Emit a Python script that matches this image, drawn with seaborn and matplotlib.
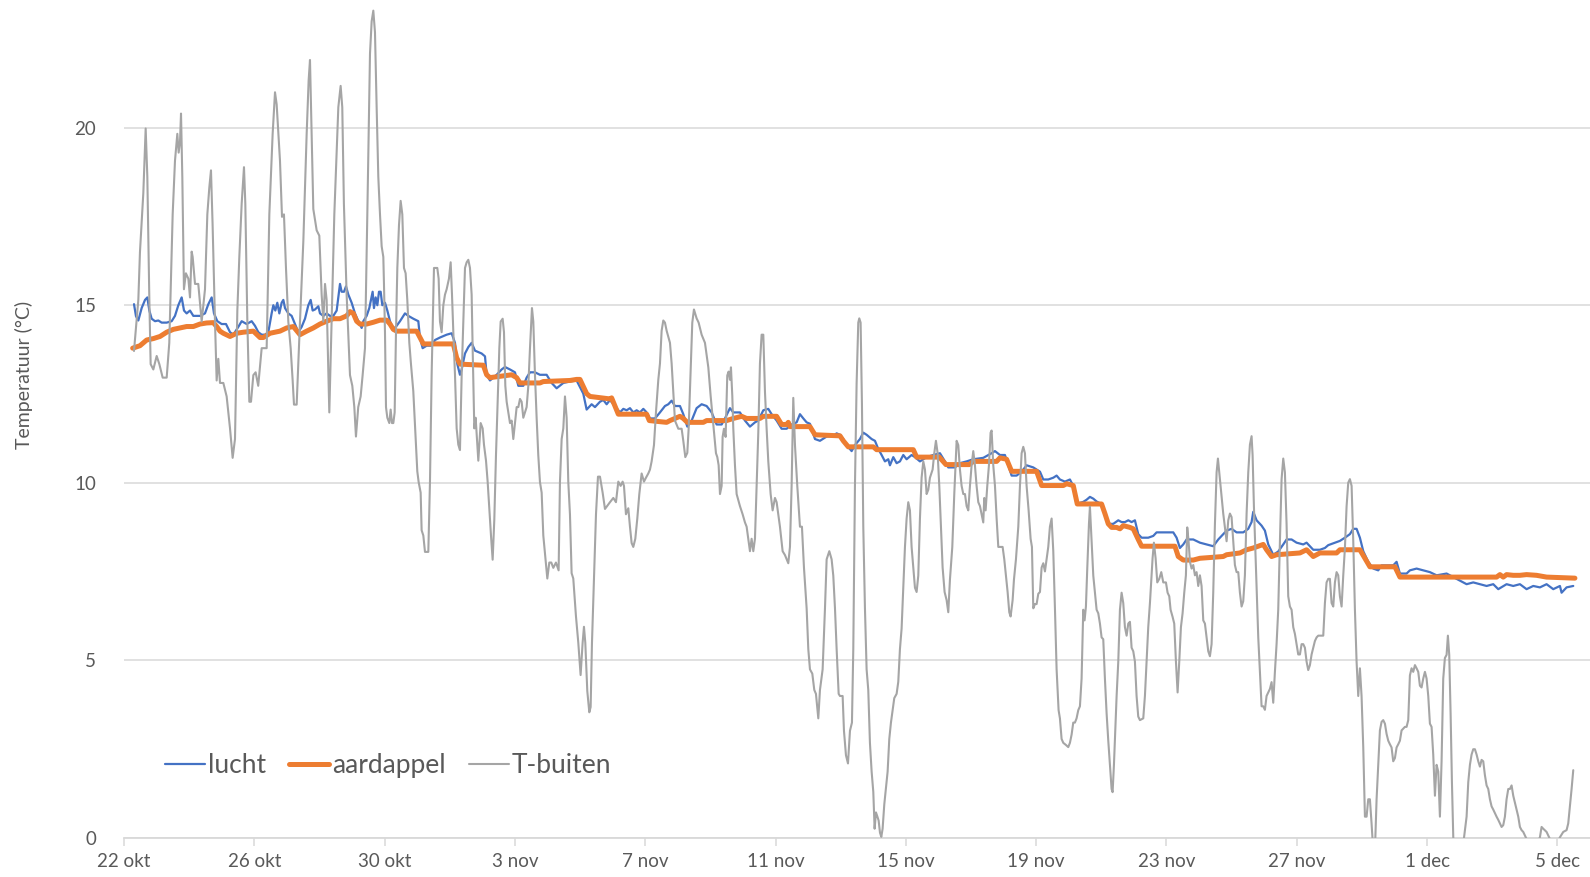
import numpy as np
import pandas as pd
import matplotlib
matplotlib.use("Agg")
import matplotlib.pyplot as plt
import seaborn as sns

# ---------------- data (days since 22 okt 00:00, temperature in °C) ----------------
buiten_dag = [
    0.307, 0.44, 0.49, 0.593, 0.665, 0.716, 0.778, 0.818, 0.90, 1.003, 1.085, 1.187, 1.31, 1.39, 1.494,
    1.565, 1.637, 1.678, 1.719, 1.75, 1.79, 1.84, 1.90, 1.975, 2.026, 2.077, 2.108, 2.18, 2.28, 2.384,
    2.486, 2.558, 2.619, 2.67, 2.72, 2.793, 2.844, 2.895, 2.947, 3.049, 3.151, 3.254, 3.335, 3.407,
    3.479, 3.54, 3.612, 3.683, 3.724, 3.786, 3.847, 3.898, 3.97, 4.04, 4.12, 4.226, 4.379, 4.461, 4.563,
    4.635, 4.686, 4.788, 4.85, 4.91, 4.972, 5.044, 5.116, 5.177, 5.218, 5.30, 5.402, 5.505, 5.607, 5.668,
    5.709, 5.76, 5.811, 5.914, 5.995, 6.067, 6.118, 6.17, 6.22, 6.302, 6.374, 6.456, 6.528, 6.579, 6.65,
    6.70, 6.75, 6.834, 6.937, 7.008, 7.07, 7.12, 7.19, 7.264, 7.325, 7.397, 7.469,
    7.551, 7.602, 7.653, 7.704, 7.755, 7.806, 7.858, 7.909, 7.960, 7.980, 8.011, 8.042, 8.083, 8.144,
    8.185, 8.226, 8.267, 8.308, 8.349, 8.390, 8.441, 8.492, 8.543, 8.594, 8.645, 8.696, 8.758, 8.809,
    8.880, 8.952, 9.003, 9.044, 9.106, 9.136, 9.188, 9.239, 9.341, 9.392, 9.443, 9.515, 9.556, 9.617,
    9.658, 9.699, 9.750, 9.802, 9.853, 9.904, 9.975, 10.027, 10.068, 10.109, 10.160, 10.211, 10.262,
    10.313, 10.365, 10.416, 10.467, 10.518, 10.569, 10.620, 10.671, 10.702, 10.753, 10.794, 10.825,
    10.876, 10.948, 11.009, 11.050, 11.112, 11.163, 11.214, 11.265, 11.316, 11.367, 11.418, 11.469,
    11.521, 11.562, 11.623, 11.664, 11.705, 11.746, 11.797, 11.848, 11.899, 11.950, 12.001, 12.053,
    12.104, 12.155, 12.206, 12.257, 12.308, 12.359, 12.411, 12.462, 12.523, 12.564, 12.615, 12.666,
    12.717, 12.768, 12.820, 12.871, 12.932, 12.994, 13.055, 13.116, 13.178, 13.259, 13.341, 13.382,
    13.434, 13.485, 13.536, 13.587, 13.638, 13.689, 13.740, 13.791, 13.873, 13.945, 14.016, 14.078,
    14.119, 14.160, 14.221, 14.283, 14.324, 14.365, 14.426, 14.488, 14.549, 14.610, 14.692, 14.764,
    14.917, 15.020, 15.101, 15.173, 15.245, 15.306, 15.347, 15.408, 15.480, 15.531, 15.582, 15.633,
    15.695, 15.756, 15.818, 15.889, 15.961, 16.022, 16.094, 16.145, 16.196, 16.268, 16.329, 16.401,
    16.452, 16.503, 16.554, 16.605, 16.657, 16.759, 16.810, 16.861, 16.912, 16.963, 17.015, 17.117,
    17.168, 17.230, 17.291, 17.332, 17.393, 17.444, 17.495, 17.577, 17.639, 17.731, 17.833, 17.884,
    17.936, 18.007, 18.089, 18.171, 18.212, 18.253, 18.294, 18.345, 18.375, 18.416, 18.467, 18.518,
    18.559, 18.600, 18.631, 18.672, 18.703, 18.754, 18.805, 18.907, 18.989, 19.061, 19.112, 19.163,
    19.214, 19.265, 19.317, 19.368, 19.419, 19.470, 19.521, 19.572, 19.624, 19.675, 19.726, 19.777,
    19.849, 19.910, 19.982, 20.033, 20.135, 20.217, 20.289, 20.391, 20.442, 20.493, 20.544, 20.596,
    20.667, 20.749, 20.810, 20.872, 20.954, 21.005, 21.056, 21.128, 21.189, 21.240, 21.312, 21.363,
    21.445, 21.517, 21.568, 21.650, 21.721, 21.772, 21.824, 21.875, 21.937,
    21.977, 22.059, 22.100, 22.161, 22.223, 22.284, 22.345, 22.386, 22.437, 22.488, 22.539, 22.570,
    22.611, 22.652, 22.693, 22.744, 22.795, 22.846, 22.897, 22.949, 23.000, 23.041, 23.082, 23.123,
    23.164, 23.205, 23.246, 23.286, 23.338, 23.389, 23.440, 23.491, 23.542, 23.593, 23.644, 23.716,
    23.767, 23.818, 23.869, 23.921, 23.972, 24.023, 24.074, 24.125, 24.176, 24.228, 24.279, 24.330,
    24.381, 24.432, 24.483, 24.535, 24.586, 24.637, 24.688, 24.739, 24.821, 24.872, 24.923, 24.975,
    25.026, 25.077, 25.128, 25.189, 25.251, 25.302, 25.353, 25.425, 25.486, 25.558, 25.609, 25.660,
    25.711, 25.763, 25.814, 25.865, 25.916, 25.967, 26.018, 26.069, 26.120, 26.171, 26.223, 26.274,
    26.325, 26.376, 26.407, 26.448, 26.499, 26.550, 26.601, 26.632, 26.683, 26.735, 26.786, 26.837,
    26.888, 26.970, 27.021, 27.072, 27.123, 27.174, 27.215, 27.277, 27.318, 27.379, 27.451, 27.502,
    27.553, 27.604, 27.655, 27.706, 27.768, 27.829, 27.870, 27.911, 27.962, 28.013, 28.065, 28.116,
    28.167, 28.218, 28.269, 28.320, 28.371, 28.422, 28.474, 28.525, 28.576, 28.627, 28.688, 28.729,
    28.780, 28.832, 28.913, 28.985, 29.036, 29.087, 29.138, 29.189, 29.240, 29.292,
    29.343, 29.394, 29.445, 29.486, 29.527, 29.568, 29.620, 29.650, 29.701, 29.753, 29.804, 29.855,
    29.906, 29.957, 30.008, 30.059, 30.110, 30.162, 30.213, 30.264, 30.315, 30.346, 30.387, 30.428,
    30.469, 30.520, 30.571, 30.622, 30.673, 30.724, 30.776, 30.827, 30.878, 30.929, 30.980, 31.031,
    31.082, 31.133, 31.185, 31.287, 31.338, 31.389, 31.440, 31.492, 31.543, 31.573, 31.614, 31.666,
    31.717, 31.778, 31.840, 31.901, 31.983, 32.034, 32.085, 32.126, 32.187, 32.238, 32.290, 32.341,
    32.392, 32.443, 32.494, 32.545, 32.596, 32.637, 32.678, 32.720, 32.771, 32.822, 32.873, 32.924,
    32.975, 33.026, 33.077, 33.129, 33.180, 33.231, 33.282, 33.333, 33.384, 33.435, 33.487, 33.538,
    33.579, 33.620, 33.691, 33.742, 33.794, 33.845, 33.896, 33.947, 33.998, 34.049, 34.100, 34.152,
    34.203, 34.254, 34.305, 34.356, 34.407, 34.459, 34.510, 34.561, 34.612, 34.643, 34.684, 34.766,
    34.817, 34.868, 34.919, 34.970, 35.021, 35.072, 35.124, 35.175, 35.226, 35.277, 35.328, 35.379,
    35.430, 35.482, 35.533, 35.584, 35.635, 35.686, 35.737, 35.789, 35.840, 35.891, 35.942, 35.993,
    36.044, 36.096, 36.147, 36.198, 36.249, 36.300, 36.351, 36.403, 36.454, 36.505, 36.556, 36.607,
    36.658, 36.710,
    36.812, 36.863, 36.914, 36.965, 37.016, 37.068, 37.119, 37.170, 37.221, 37.272, 37.323, 37.375,
    37.426, 37.477, 37.528, 37.579, 37.630, 37.682, 37.733, 37.784, 37.835, 37.886, 37.937, 37.988,
    38.040, 38.091, 38.142, 38.193, 38.244, 38.295, 38.347, 38.398, 38.449, 38.500, 38.551, 38.602,
    38.653, 38.705, 38.756, 38.807, 38.858, 38.909, 38.960, 39.012, 39.063, 39.114, 39.165, 39.216,
    39.267, 39.319, 39.370, 39.421, 39.472, 39.523, 39.574, 39.626, 39.677, 39.728, 39.779, 39.830,
    39.881, 39.933, 39.984, 40.035, 40.086, 40.137, 40.188, 40.240, 40.291, 40.342, 40.393, 40.444,
    40.495, 40.546, 40.598, 40.638, 40.679, 40.721, 40.762, 40.803, 40.854, 41.007, 41.109, 41.160,
    41.212, 41.263, 41.314, 41.365, 41.416, 41.467, 41.519, 41.570, 41.621, 41.672, 41.723, 41.774,
    41.826, 41.877, 41.928, 41.979, 42.030, 42.081, 42.132, 42.184, 42.235, 42.286, 42.337, 42.388,
    42.439, 42.491, 42.542, 42.593, 42.644, 42.695, 42.746, 42.798, 42.849, 42.900, 42.951, 43.002,
    43.053, 43.105, 43.156, 43.258, 43.360, 43.463, 43.514, 43.565, 43.667, 43.719, 43.770, 43.872,
    43.974, 44.077, 44.179, 44.281, 44.332, 44.384, 44.435, 44.486,
]
buiten_temp = [
    13.71, 15.15, 16.5, 18.16, 19.98, 18.62, 15.15, 13.34, 13.19, 13.57, 13.34, 12.96, 12.96, 13.94, 17.56,
    19.07, 19.83, 19.30, 19.60, 20.40, 18.62, 15.45, 15.90, 15.75, 15.22, 16.51, 16.36, 15.6, 15.6, 14.54,
    15.45, 17.56, 18.32, 18.8, 17.26, 14.54, 12.88, 13.49, 12.81, 12.81, 12.43, 11.53, 10.70, 11.23,
    14.85, 16.36, 17.86, 18.89, 17.86, 14.54, 12.28, 12.28, 13.03, 13.11, 12.73, 13.79, 13.79, 17.56, 19.83,
    21.0, 20.66, 19.07, 17.49, 17.56, 16.05, 14.54, 13.79, 12.88, 12.2, 12.2, 14.54, 16.81, 19.83, 21.34,
    21.91, 19.83, 17.71, 17.11, 16.96, 15.3, 14.54, 15.6, 15.15, 11.98, 14.54, 17.56, 19.37, 20.58, 21.18,
    20.58, 17.86, 15.3, 13.03, 12.73, 12.13, 11.30, 12.13, 12.43, 13.03, 13.79, 17.56,
    22.09, 23.0, 23.3, 22.69, 20.58, 18.62, 17.56, 16.66, 16.36, 15.60, 14.24, 12.13, 11.83, 11.68,
    12.06, 11.68, 11.68, 11.98, 14.24, 16.05, 17.26, 17.94, 17.56, 16.05, 15.90, 15.15, 13.94, 13.34,
    12.58, 11.23, 10.32, 10.02, 9.72, 8.66, 8.51, 8.05, 8.05, 10.02, 13.04, 16.05, 16.05, 16.05,
    15.75, 14.54, 14.24, 15.0, 15.30, 15.45, 15.75, 16.21, 15.30, 14.24, 13.04, 11.53, 11.07,
    10.92, 13.04, 14.54, 16.05, 16.21, 16.28, 16.05, 15.30, 13.79, 11.53, 11.83, 11.38,
    10.62, 11.68, 11.53, 11.07, 10.62, 10.02, 9.26, 8.51, 7.83, 8.96, 10.77, 12.28,
    13.79, 14.54, 14.62, 14.24, 12.73, 12.28, 11.98, 11.68, 11.75, 11.23, 11.68, 12.13,
    12.13, 12.36, 12.28, 11.83, 11.98, 12.13, 12.73, 13.79, 14.92, 14.54, 13.04, 11.83,
    10.77, 10.02, 9.72, 8.51, 7.90, 7.30, 7.75, 7.75, 7.60, 7.75, 7.53, 10.02,
    11.23, 11.53, 12.43, 11.83, 10.02, 9.11, 7.45, 7.30, 6.24, 5.49, 4.58, 5.49,
    5.94, 5.49, 4.13, 3.53, 3.68, 5.49, 7.30, 9.11, 10.17, 10.17, 9.72, 9.26,
    9.45, 9.57, 9.45, 10.03, 9.91, 10.03, 9.91, 9.11, 9.28, 8.76, 8.30, 8.19,
    8.42, 8.99, 9.68, 10.26, 10.03, 10.14, 10.26, 10.37, 10.60, 11.06, 11.98, 12.90,
    13.36, 14.28, 14.57, 14.51, 14.28, 13.94, 13.36, 12.56, 11.75, 11.64, 11.52, 11.52,
    11.18, 10.72, 10.84, 11.52, 13.13, 14.51, 14.88, 14.63, 14.51, 14.17, 13.94, 13.59,
    13.25, 12.45, 11.64, 10.83, 10.72, 10.49, 9.68, 9.91, 11.29, 11.52, 11.29, 13.02,
    13.13, 12.90, 13.25, 12.45, 11.52, 10.49, 9.68, 9.34, 9.11, 8.88, 8.76, 8.42,
    8.07, 8.42, 8.07, 8.42, 9.91, 11.41, 13.36, 14.17, 14.17, 12.56, 11.52, 10.60,
    9.68, 9.22, 9.57, 9.45, 8.76, 8.07, 7.96, 7.73, 8.19, 9.91, 12.39, 11.06,
    9.91, 8.76, 8.76, 7.61, 6.46, 5.31, 4.74, 4.62, 4.16, 4.05, 3.36, 4.16,
    4.74, 6.46, 7.84, 8.07, 7.84, 7.38, 6.46, 5.31, 4.05,
    3.99, 3.99, 3.01, 2.32, 2.09, 3.01, 3.24, 5.31, 9.91, 12.79, 14.51, 14.63,
    14.51, 12.21, 8.76, 6.46, 4.74, 4.16, 2.67, 1.86, 1.29, 0.25, 0.71, 0.60,
    0.48, 0.14, 0.02, 0.25, 0.94, 1.40, 1.86, 2.78, 3.24, 3.59, 3.93, 4.05,
    4.39, 5.31, 5.89, 7.04, 8.19, 8.99, 9.45, 9.22, 8.19, 7.61, 7.04, 6.92,
    7.38, 8.99, 10.14, 10.60, 10.37, 9.68, 9.80, 10.14, 10.37, 10.83, 11.18, 10.83,
    9.91, 8.76, 7.61, 6.92, 6.69, 6.35, 7.27, 8.19, 9.68, 11.18, 11.06, 10.37,
    9.91, 9.68, 9.68, 9.34, 9.22, 9.91, 10.49, 10.89, 10.49, 9.91, 9.45, 9.34,
    9.11, 8.88, 9.57, 9.22, 9.91, 10.49, 11.41, 11.47, 10.49, 9.91, 8.99, 8.19,
    8.19, 8.19, 7.84, 7.38, 6.92, 6.35, 6.23, 6.69, 7.27, 7.84, 8.76, 9.91,
    10.83, 11.01, 10.83, 9.91, 9.22, 8.42, 8.19, 6.46, 6.58, 6.58, 6.87, 6.92,
    7.61, 7.73, 7.50, 7.84, 8.19, 8.76, 8.99, 8.07, 6.46, 4.74, 3.59, 3.36,
    2.78, 2.67, 2.61, 2.55, 2.67, 2.90, 3.24, 3.24, 3.36, 3.59,
    3.70, 4.48, 6.42, 6.12, 6.51, 7.58, 8.84, 9.32, 8.35, 7.38, 6.90, 6.42,
    6.32, 6.03, 5.64, 5.59, 4.48, 3.50, 2.73, 2.05, 1.37, 1.28, 2.05, 3.02,
    3.99, 4.96, 6.42, 6.90, 6.61, 5.93, 5.69, 6.03, 6.08, 5.35, 5.25, 4.96,
    3.99, 3.41, 3.31, 3.36, 3.99, 4.96, 5.93, 6.61, 7.39, 7.87, 8.31, 7.87,
    7.19, 7.29, 7.48, 7.19, 7.19, 6.90, 6.80, 6.42, 6.22, 6.03, 4.96, 4.09,
    4.96, 5.93, 6.32, 6.90, 7.39, 8.74, 8.35, 7.77, 7.58, 7.68, 7.39, 7.48,
    7.09, 7.39, 7.09, 6.12, 6.03, 5.64, 5.25, 5.11, 5.45, 6.90, 8.84, 10.29,
    10.68, 10.29, 9.62, 9.13, 8.74, 8.35, 8.94, 9.13, 9.03, 8.35, 7.68, 7.48,
    7.48, 6.90, 6.51, 6.66, 7.39, 9.13, 10.29, 11.07, 11.31, 10.78, 9.32, 7.09,
    5.64, 4.67, 3.70, 3.70, 3.60, 3.99, 4.09, 4.19, 4.38, 3.80, 4.67, 5.45,
    6.42, 8.35, 10.10, 10.68, 10.29, 8.84, 6.80, 6.51, 6.42, 5.93, 5.74, 5.45,
    5.16, 5.16, 5.45, 5.45, 5.35, 4.96, 4.72, 4.86, 5.16, 5.35, 5.54, 5.64,
    5.69, 5.69,
    5.69, 6.61, 7.19, 7.29, 7.29, 6.61, 6.51, 7.19, 7.48, 7.39, 6.80, 6.51,
    7.39, 8.16, 9.33, 10.00, 10.10, 9.91, 8.36, 6.42, 4.96, 3.99, 4.77, 3.99,
    2.54, 0.59, 0.59, 1.08, 1.08, 0.40, -0.38, -0.38, 1.08, 2.05, 3.02, 3.26,
    3.31, 3.21, 2.92, 2.73, 2.63, 2.54, 2.15, 2.24, 2.54, 2.63, 2.73, 3.02,
    3.07, 3.12, 3.12, 3.31, 4.57, 4.77, 4.67, 4.86, 4.77, 4.67, 4.28, 4.23,
    4.48, 4.67, 4.48, 3.99, 3.21, 3.12, 2.34, 1.18, 2.05, 1.86, 0.59, 2.15,
    4.48, 5.06, 5.15, 5.69, 5.15, 3.50, 1.56, 0.01, -0.38, -0.57, -0.18, 0.21,
    0.59, 1.56, 2.05, 2.34, 2.49, 2.49, 2.34, 2.15, 2.00, 2.19, 2.15, 1.76,
    1.47, 1.37, 1.08, 0.88, 0.79, 0.69, 0.59, 0.50, 0.40, 0.30, 0.35, 0.59,
    1.08, 1.37, 1.37, 1.47, 1.18, 0.98, 0.79, 0.59, 0.30, 0.21, 0.16, 0.06,
    -0.04, -0.18, -0.38, -0.38, -0.18, 0.01, 0.30, 0.25, 0.16, 0.06, -0.04, -0.28,
    -0.18, 0.01, 0.16, 0.21, 0.40, 0.88, 1.37, 1.90,
]

lucht_dag = [
    0.307, 0.368, 0.440, 0.542, 0.645, 0.716, 0.778, 0.849, 0.952, 1.054, 1.156, 1.310, 1.463, 1.565,
    1.668, 1.770, 1.842, 1.923, 2.026, 2.128, 2.333, 2.486, 2.589, 2.691, 2.762, 2.865, 2.998, 3.131,
    3.254, 3.356, 3.509, 3.612, 3.765, 3.919, 4.021, 4.123, 4.226, 4.328, 4.430, 4.532, 4.584, 4.645,
    4.706, 4.768, 4.839, 4.891, 4.942, 5.044, 5.146, 5.249, 5.351, 5.453, 5.556, 5.658, 5.730, 5.791,
    5.863, 5.965, 6.016, 6.118, 6.220, 6.323, 6.425, 6.528, 6.579, 6.630, 6.681, 6.753, 6.814, 6.886,
    6.988, 7.090, 7.193, 7.295,
    7.346, 7.448, 7.530, 7.581, 7.632, 7.673, 7.725, 7.776, 7.827, 7.878, 7.929, 8.011, 8.083, 8.165,
    8.267, 8.369, 8.472, 8.625, 8.728, 8.881, 9.034, 9.085, 9.167, 9.290, 9.443, 9.546, 9.699, 9.904,
    10.058, 10.160, 10.232, 10.313, 10.365, 10.467, 10.569, 10.671, 10.774, 10.978, 11.081, 11.132,
    11.234, 11.439, 11.592, 11.695, 11.848, 12.001, 12.104, 12.257, 12.359, 12.462, 12.615, 12.768,
    12.973, 13.126, 13.280, 13.485, 13.689, 13.893, 14.016, 14.098, 14.201, 14.354, 14.457, 14.610,
    14.713, 14.815, 14.917, 15.020, 15.122, 15.224, 15.327, 15.429, 15.531, 15.633, 15.736, 15.838,
    15.941, 16.043, 16.145, 16.299, 16.452, 16.605, 16.708, 16.810, 16.912, 17.066, 17.168, 17.291,
    17.424, 17.577, 17.731, 17.884, 18.038, 18.191, 18.345, 18.447, 18.600, 18.703, 18.907, 19.061,
    19.214, 19.368, 19.470, 19.624, 19.777, 19.879, 20.033, 20.186, 20.340, 20.493, 20.647, 20.749,
    20.852, 20.954, 21.056, 21.210, 21.363, 21.568, 21.772, 21.875,
    21.977, 22.079, 22.182, 22.335, 22.437, 22.591, 22.693, 22.795, 22.949, 23.051, 23.153, 23.256,
    23.358, 23.460, 23.511, 23.614, 23.716, 23.818, 23.921, 24.023, 24.176, 24.279, 24.432, 24.637,
    24.841, 25.046, 25.200, 25.302, 25.507, 25.660, 25.865, 26.069, 26.376, 26.632, 26.735, 26.888,
    27.041, 27.143, 27.246, 27.399, 27.553, 27.706, 27.911, 28.116, 28.218, 28.371, 28.525, 28.627,
    28.729, 28.883, 29.036, 29.138, 29.240, 29.445,
    29.548, 29.650, 29.753, 29.855, 29.957, 30.059, 30.162, 30.264, 30.366, 30.520, 30.622, 30.724,
    30.827, 30.929, 31.031, 31.133, 31.236, 31.440, 31.594, 31.696, 32.208, 32.310, 32.412, 32.515,
    32.617, 32.822, 33.026, 33.231, 33.435, 33.589, 33.691, 33.845, 33.998, 34.152, 34.356, 34.510,
    34.612, 34.663, 34.766, 34.919, 35.021, 35.124, 35.277, 35.430, 35.584, 35.686, 35.840, 35.993,
    36.198, 36.300, 36.403, 36.505, 36.710,
    36.863, 36.965, 37.170, 37.323, 37.477, 37.630, 37.733, 37.835, 37.937, 38.040, 38.193, 38.347,
    38.500, 38.602, 38.960, 39.063, 39.165, 39.370, 39.472, 39.677, 39.881, 40.086, 40.291, 40.598,
    40.803, 41.007, 41.212, 41.416, 41.621, 41.826, 42.030, 42.184, 42.439, 42.644, 42.849, 43.053,
    43.258, 43.463, 43.667, 43.872, 44.077, 44.128, 44.281, 44.486,
]
lucht_temp = [
    15.03, 14.69, 14.57, 14.92, 15.15, 15.22, 14.85, 14.62, 14.55, 14.57, 14.51, 14.51, 14.55, 14.70,
    15.00, 15.22, 14.85, 14.77, 14.85, 14.70, 14.70, 14.77, 15.03, 15.22, 14.77, 14.55, 14.47, 14.47,
    14.24, 14.17, 14.39, 14.55, 14.47, 14.55, 14.42, 14.24, 14.17, 14.17, 14.24, 14.77, 15.00, 14.85,
    15.07, 14.77, 15.07, 15.15, 14.92, 14.77, 14.70, 14.47, 14.24, 14.39, 14.62, 15.00, 15.15, 14.85,
    14.88, 14.97, 14.77, 14.70, 14.77, 14.70, 14.70, 14.85, 15.22, 15.60, 15.38, 15.38, 15.53, 15.30,
    15.07, 14.77, 14.55, 14.36,
    14.55, 14.70, 14.92, 15.15, 15.38, 14.92, 15.22, 15.00, 15.38, 15.38, 15.00, 15.07, 14.85, 14.55,
    14.32, 14.42, 14.55, 14.77, 14.70, 14.62, 14.55, 14.09, 13.79, 13.86, 13.86, 14.02, 14.09, 14.17,
    14.21, 13.94, 13.34, 13.04, 13.19, 13.64, 13.82, 13.94, 13.72, 13.64, 13.56, 13.04,
    12.88, 13.04, 13.19, 13.26, 13.19, 13.11, 12.73, 12.73, 12.96, 13.11, 13.11, 13.04,
    13.04, 12.81, 12.66, 12.81, 12.85, 12.88, 12.66, 12.51, 12.06, 12.21, 12.13, 12.28,
    12.33, 12.21, 12.33, 12.21, 12.10, 11.98, 12.08, 12.04, 12.10, 11.98, 12.04, 11.98,
    12.08, 11.98, 11.81, 11.81, 11.98, 12.16, 12.21, 12.31, 12.16, 12.16, 11.93, 11.58,
    11.75, 12.10, 12.21, 12.16, 11.98, 11.64, 11.64, 11.81, 12.10, 11.98, 11.98, 11.75,
    11.58, 11.70, 11.75, 12.04, 12.08, 11.93, 11.75, 11.52, 11.52, 11.64, 11.70, 11.93,
    11.81, 11.70, 11.66, 11.23, 11.18, 11.30, 11.32, 11.39,
    11.35, 11.23, 11.06, 10.89, 11.06, 11.23, 11.41, 11.35, 11.23, 11.18, 10.95, 10.78,
    10.60, 10.66, 10.49, 10.72, 10.55, 10.60, 10.78, 10.66, 10.78, 10.72, 10.60, 10.72,
    10.78, 10.83, 10.60, 10.43, 10.43, 10.55, 10.60, 10.66, 10.70, 10.83, 10.89, 10.78,
    10.78, 10.49, 10.20, 10.20, 10.31, 10.49, 10.43, 10.31, 10.09, 10.09, 10.14, 10.20,
    10.09, 10.03, 10.09, 9.91, 9.40, 9.46,
    9.52, 9.60, 9.55, 9.47, 9.42, 9.32, 8.94, 8.84, 8.84, 8.94, 8.89, 8.89,
    8.94, 8.89, 8.94, 8.55, 8.45, 8.45, 8.50, 8.60, 8.60, 8.45, 8.16, 8.26,
    8.40, 8.40, 8.31, 8.26, 8.21, 8.40, 8.50, 8.65, 8.70, 8.60, 8.60, 8.70,
    8.89, 9.18, 8.94, 8.79, 8.65, 8.26, 7.97, 8.06, 8.26, 8.40, 8.40, 8.31,
    8.26, 8.31, 8.21, 8.11, 8.11,
    8.16, 8.24, 8.31, 8.36, 8.45, 8.55, 8.70, 8.70, 8.45, 8.07, 7.77, 7.58,
    7.53, 7.67, 7.67, 7.77, 7.44, 7.44, 7.53, 7.58, 7.53, 7.48, 7.39, 7.44,
    7.34, 7.24, 7.14, 7.19, 7.14, 7.09, 7.14, 7.00, 7.14, 7.09, 7.14, 7.00,
    7.09, 7.05, 7.14, 7.00, 7.09, 6.90, 7.05, 7.09,
]

aardappel_dag = [
    0.266, 0.491, 0.696, 0.900, 1.105, 1.310, 1.514, 1.719, 1.923, 2.128, 2.333, 2.537, 2.742, 2.844,
    2.947, 3.049, 3.254, 3.458, 3.663, 3.970, 4.174, 4.277, 4.481, 4.788, 4.993, 5.197, 5.402, 5.607,
    5.811, 6.016, 6.220, 6.425, 6.630, 6.834, 6.937, 7.039, 7.141,
    7.244, 7.448, 7.653, 7.858, 8.062, 8.165, 8.267, 8.369, 8.983, 9.085, 9.188, 10.109, 10.211,
    10.313, 11.029, 11.132, 11.234, 11.899, 12.053, 12.155, 12.768, 12.871, 13.689, 13.893, 13.996,
    14.201, 14.303, 14.918,
    14.968, 15.070, 15.173, 16.043, 16.125, 16.657, 16.759, 17.066, 17.168, 17.291, 17.782, 17.884,
    18.498, 18.703, 18.959, 19.112, 19.521, 19.624, 20.033, 20.186, 20.340, 20.391, 20.442, 21.056,
    21.210, 21.977,
    22.079, 22.232, 23.000, 23.102, 24.228, 24.330, 25.026, 25.230, 25.946, 26.069, 26.786, 26.888,
    27.092, 27.246, 28.013, 28.167, 28.525, 28.832, 28.934, 29.138, 29.261,
    29.343, 30.008, 30.110, 30.213, 30.315, 30.469, 30.571, 30.673, 30.878, 30.980, 31.133, 31.236,
    32.259, 32.361, 32.515, 32.822, 33.026, 33.742, 33.845, 34.254, 34.459, 34.663, 34.970, 35.072,
    35.226, 35.379, 36.096, 36.300, 36.505, 36.710,
    37.221, 37.323, 37.937, 38.091, 38.244, 39.012, 39.165, 42.132, 42.235, 42.337, 42.439, 42.644,
    42.849, 43.053, 43.360, 43.667, 44.537,
]
aardappel_temp = [
    13.79, 13.86, 14.02, 14.06, 14.12, 14.24, 14.32, 14.36, 14.40, 14.40, 14.47, 14.50, 14.51, 14.40,
    14.27, 14.21, 14.12, 14.21, 14.24, 14.27, 14.09, 14.09, 14.21, 14.27, 14.36, 14.40, 14.17, 14.27,
    14.36, 14.47, 14.55, 14.62, 14.62, 14.70, 14.82, 14.77, 14.55,
    14.47, 14.47, 14.52, 14.58, 14.58, 14.47, 14.32, 14.27, 14.27, 14.09, 13.91, 13.91, 13.52,
    13.34, 13.31, 13.04, 12.96, 13.04, 12.96, 12.81, 12.81, 12.85, 12.88, 12.91, 12.91,
    12.51, 12.43, 12.36,
    12.39, 12.16, 11.93, 11.93, 11.75, 11.70, 11.75, 11.87, 11.81, 11.70, 11.70, 11.75,
    11.75, 11.81, 11.87, 11.81, 11.81, 11.87, 11.87, 11.64, 11.64, 11.70, 11.58, 11.58,
    11.35, 11.32,
    11.18, 11.01, 11.01, 10.93, 10.93, 10.72, 10.72, 10.51, 10.51, 10.60, 10.60, 10.70,
    10.66, 10.32, 10.32, 9.92, 9.92, 9.92, 9.97, 9.92, 9.40,
    9.40, 9.40, 9.13, 8.84, 8.74, 8.74, 8.70, 8.79, 8.74, 8.70, 8.40, 8.21,
    8.21, 7.92, 7.82, 7.82, 7.87, 7.92, 7.97, 8.02, 8.11, 8.16, 8.26, 8.11,
    7.92, 7.97, 8.02, 8.11, 7.92, 8.02,
    8.02, 8.11, 8.11, 7.87, 7.63, 7.63, 7.34, 7.34, 7.41, 7.34, 7.41, 7.39,
    7.39, 7.41, 7.39, 7.34, 7.31,
]

series_names = ["lucht", "aardappel", "T-buiten"]
tick_days = [0, 4, 8, 12, 16, 20, 24, 28, 32, 36, 40, 44]
tick_labels = ["22 okt", "26 okt", "30 okt", "3 nov", "7 nov", "11 nov", "15 nov",
               "19 nov", "23 nov", "27 nov", "1 dec", "5 dec"]
y_ticks = [0, 5, 10, 15, 20]

# ---------------- styling ----------------
sns.set_theme(style="white")
plt.rcParams["font.family"] = ["Lato", "DejaVu Sans"]

colors = {"lucht": "#4472C4", "aardappel": "#ED7D31", "T-buiten": "#A5A5A5"}
widths = {"lucht": 1.6, "aardappel": 3.6, "T-buiten": 1.5}
text_col = "#595959"
grid_col = "#D9D9D9"

df_l = pd.DataFrame({"dag": lucht_dag, "temp": lucht_temp})
df_a = pd.DataFrame({"dag": aardappel_dag, "temp": aardappel_temp})
df_b = pd.DataFrame({"dag": buiten_dag, "temp": buiten_temp})

fig = plt.figure(figsize=(15.9, 8.77), dpi=100)
ax = fig.add_axes([124 / 1590, (877 - 837.6) / 877, 1 - 124 / 1590, 837.6 / 877])

for name, d in zip(series_names, [df_l, df_a, df_b]):
    sns.lineplot(data=d, x="dag", y="temp", ax=ax, color=colors[name], linewidth=widths[name],
                 label=name, sort=False, estimator=None, solid_joinstyle="round")

ax.set_xlim(0, 45.0)
ax.set_ylim(0, 23.6)
ax.set_yticks(y_ticks)
ax.set_yticklabels([str(v) for v in y_ticks])
ax.set_xticks(tick_days)
ax.set_xticklabels(tick_labels)

ax.yaxis.grid(True, color=grid_col, linewidth=1.1)
ax.xaxis.grid(False)
ax.set_axisbelow(True)
for s in ["top", "right", "left"]:
    ax.spines[s].set_visible(False)
ax.spines["bottom"].set_color(grid_col)
ax.spines["bottom"].set_linewidth(1.3)
ax.spines["bottom"].set_zorder(0.5)

ax.tick_params(axis="x", which="major", bottom=True, length=6, width=1.1, color=grid_col,
               labelsize=13.5, labelcolor=text_col, pad=5)
ax.tick_params(axis="y", which="major", left=False, length=0, labelsize=13.5, labelcolor=text_col, pad=20)

ax.set_xlabel("")
ax.set_ylabel("Temperatuur (°C)", fontsize=14, color=text_col)
ax.yaxis.set_label_coords(-0.062, 0.552)

leg = ax.legend(loc="lower left", bbox_to_anchor=(0.012, 0.043), ncol=3, frameon=False,
                fontsize=19, handlelength=1.5, handletextpad=0.1, columnspacing=0.9)
for t in leg.get_texts():
    t.set_color(text_col)

fig.savefig("out.png", dpi=100, facecolor="white")
